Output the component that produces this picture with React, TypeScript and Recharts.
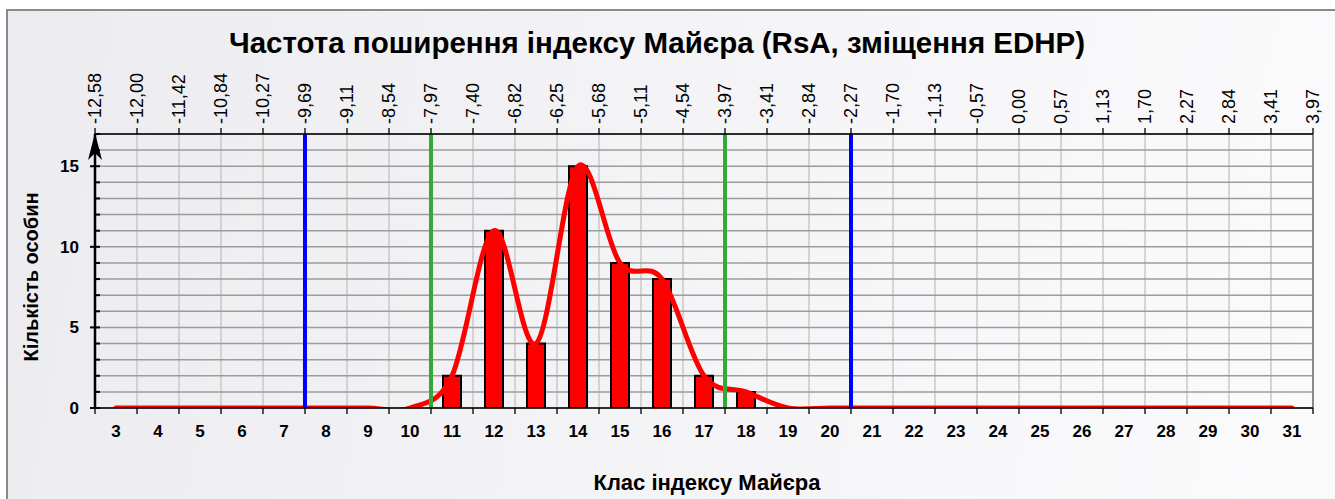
import React from 'react';
import {
  ComposedChart,
  Bar,
  Line,
  XAxis,
  YAxis,
  CartesianGrid,
  ReferenceLine,
  ReferenceDot,
} from 'recharts';

const classes = [3, 4, 5, 6, 7, 8, 9, 10, 11, 12, 13, 14, 15, 16, 17, 18, 19, 20, 21, 22, 23, 24, 25, 26, 27, 28, 29, 30, 31];
const counts = [0, 0, 0, 0, 0, 0, 0, 0, 2, 11, 4, 15, 9, 8, 2, 1, 0, 0, 0, 0, 0, 0, 0, 0, 0, 0, 0, 0, 0];
const topLabels = [
  '-12,58', '-12,00', '-11,42', '-10,84', '-10,27', '-9,69', '-9,11', '-8,54', '-7,97', '-7,40',
  '-6,82', '-6,25', '-5,68', '-5,11', '-4,54', '-3,97', '-3,41', '-2,84', '-2,27', '-1,70',
  '-1,13', '-0,57', '0,00', '0,57', '1,13', '1,70', '2,27', '2,84', '3,41', '3,97',
];
const yTicks = [0, 1, 2, 3, 4, 5, 6, 7, 8, 9, 10, 11, 12, 13, 14, 15, 16, 17];
const yMax = 17;
const blueLimits = [7.5, 20.5];
const greenLimits = [10.5, 17.5];

const TITLE = 'Частота поширення індексу Майєра (RsA, зміщення EDHP)';
const X_TITLE = 'Клас індексу Майєра';
const Y_TITLE = 'Кількість особин';

const FONT = "'Liberation Sans', Arial, Helvetica, sans-serif";

const data = classes.map((c, i) => ({ cls: c, count: counts[i] }));
const boundaries = [...classes.map((c) => c - 0.5), classes[classes.length - 1] + 0.5];
const bottomTicks = [...boundaries, ...classes].sort((a, b) => a - b);
const xDomain = [boundaries[0], boundaries[boundaries.length - 1]];

// Catmull-Rom style smoothing (similar to spreadsheet "smoothed line")
const smoothCurve = (ctx: any) => {
  let pts: [number, number][] = [];
  return {
    areaStart() {},
    areaEnd() {},
    lineStart() {
      pts = [];
    },
    lineEnd() {
      const n = pts.length;
      if (!n) return;
      ctx.moveTo(pts[0][0], pts[0][1]);
      for (let i = 0; i < n - 1; i++) {
        const p0 = pts[Math.max(i - 1, 0)];
        const p1 = pts[i];
        const p2 = pts[i + 1];
        const p3 = pts[Math.min(i + 2, n - 1)];
        ctx.bezierCurveTo(
          p1[0] + (p2[0] - p0[0]) / 6,
          p1[1] + (p2[1] - p0[1]) / 6,
          p2[0] - (p3[0] - p1[0]) / 6,
          p2[1] - (p3[1] - p1[1]) / 6,
          p2[0],
          p2[1]
        );
      }
    },
    point(x: number, y: number) {
      pts.push([+x, +y]);
    },
  };
};

const BottomTick = (props: any) => {
  const { x, y, payload } = props;
  const v = payload.value;
  if (Number.isInteger(v)) {
    return (
      <text x={x} y={y + 29} textAnchor="middle" fontFamily={FONT} fontWeight="bold" fontSize={17} fill="#000">
        {v}
      </text>
    );
  }
  return <line x1={x} x2={x} y1={y} y2={y + 6} stroke="#000" strokeWidth={1.3} />;
};

const TopTick = (props: any) => {
  const { x, y, payload } = props;
  const idx = Math.round(payload.value - boundaries[0]);
  return (
    <text
      transform={`rotate(-90 ${x} ${y})`}
      x={x}
      y={y}
      dy="0.35em"
      textAnchor="start"
      fontFamily={FONT}
      fontSize={18}
      fill="#000"
    >
      {topLabels[idx]}
    </text>
  );
};

const LeftTick = (props: any) => {
  const { x, y, payload } = props;
  const v = payload.value;
  const major = v % 5 === 0;
  return (
    <g>
      <line x1={major ? x - 5 : x} x2={x + 5} y1={y} y2={y} stroke="#000" strokeWidth={2} />
      {major && (
        <text x={x - 16} y={y + 6} textAnchor="end" fontFamily={FONT} fontWeight="bold" fontSize={17} fill="#000">
          {v}
        </text>
      )}
    </g>
  );
};

const Arrow = (props: any) => {
  const { cx, cy } = props;
  if (cx == null || cy == null) return null;
  return <path d={`M${cx},${cy - 1} L${cx + 7},${cy + 26} L${cx},${cy + 19} L${cx - 7},${cy + 26} Z`} fill="#000" />;
};

export default function App() {
  return (
    <div style={{ position: 'absolute', left: 0, top: 0, width: 1335, height: 499, overflow: 'hidden', background: '#fff' }}>
      <div
        style={{
          position: 'absolute',
          left: 6,
          top: 9,
          width: 1345,
          height: 500,
          boxSizing: 'border-box',
          border: '2px solid #8a8a8a',
          background: 'linear-gradient(100deg, #ecebef 0%, #f4f3f6 50%, #fbfbfc 100%)',
        }}
      />
      <div
        style={{
          position: 'absolute',
          left: 657,
          top: 43,
          transform: 'translate(-50%, -50%)',
          whiteSpace: 'nowrap',
          fontFamily: FONT,
          fontWeight: 'bold',
          fontSize: 29.5,
          color: '#000',
        }}
      >
        {TITLE}
      </div>
      <div
        style={{
          position: 'absolute',
          left: 31,
          top: 277,
          transform: 'translate(-50%, -50%) rotate(-90deg)',
          whiteSpace: 'nowrap',
          fontFamily: FONT,
          fontWeight: 'bold',
          fontSize: 20,
          color: '#000',
        }}
      >
        {Y_TITLE}
      </div>
      <div
        style={{
          position: 'absolute',
          left: 707,
          top: 483,
          transform: 'translate(-50%, -50%)',
          whiteSpace: 'nowrap',
          fontFamily: FONT,
          fontWeight: 'bold',
          fontSize: 22,
          color: '#000',
        }}
      >
        {X_TITLE}
      </div>
      <div style={{ position: 'absolute', left: 9, top: 12 }}>
        <ComposedChart width={1320} height={480} data={data} margin={{ top: 62, right: 16, bottom: 54, left: 26 }}>
          <CartesianGrid xAxisId="top" yAxisId="y" horizontal={false} stroke="#c9c9c9" strokeWidth={1.5} />
          <CartesianGrid xAxisId="top" yAxisId="y" vertical={false} stroke="#9c9c9c" strokeWidth={1.5} />
          <XAxis
            xAxisId="x"
            dataKey="cls"
            type="number"
            domain={xDomain}
            ticks={bottomTicks}
            interval={0}
            allowDataOverflow
            orientation="bottom"
            height={30}
            tickLine={false}
            tickSize={0}
            tickMargin={0}
            tick={BottomTick}
            axisLine={{ stroke: '#000', strokeWidth: 1.5 }}
          />
          <XAxis
            xAxisId="top"
            dataKey="cls"
            type="number"
            domain={xDomain}
            ticks={boundaries}
            interval={0}
            allowDataOverflow
            orientation="top"
            height={60}
            tickSize={6}
            tickMargin={4}
            tickLine={{ stroke: '#000', strokeWidth: 1.3 }}
            tick={TopTick}
            axisLine={{ stroke: '#000', strokeWidth: 1.5 }}
          />
          <YAxis
            yAxisId="y"
            type="number"
            domain={[0, yMax]}
            ticks={yTicks}
            interval={0}
            allowDataOverflow
            width={60}
            tickLine={false}
            tickSize={0}
            tickMargin={0}
            tick={LeftTick}
            axisLine={{ stroke: '#000', strokeWidth: 2.5 }}
          />
          <ReferenceLine xAxisId="top" yAxisId="y" x={boundaries[boundaries.length - 1]} stroke="#8a8a8a" strokeWidth={2} />
          <Bar
            xAxisId="x"
            yAxisId="y"
            dataKey="count"
            barSize={18}
            fill="#ff0000"
            stroke="#000"
            strokeWidth={2}
            isAnimationActive={false}
          />
          <Line
            xAxisId="x"
            yAxisId="y"
            dataKey="count"
            type={smoothCurve as any}
            stroke="#ff0000"
            strokeWidth={5}
            strokeLinecap="round"
            dot={false}
            activeDot={false}
            isAnimationActive={false}
          />
          {blueLimits.map((v) => (
            <ReferenceLine key={`b${v}`} xAxisId="top" yAxisId="y" x={v} stroke="#0000ff" strokeWidth={4} />
          ))}
          {greenLimits.map((v) => (
            <ReferenceLine key={`g${v}`} xAxisId="top" yAxisId="y" x={v} stroke="#33aa33" strokeWidth={4} />
          ))}
          <ReferenceDot xAxisId="top" yAxisId="y" x={boundaries[0]} y={yMax} r={0} shape={Arrow} />
        </ComposedChart>
      </div>
    </div>
  );
}
